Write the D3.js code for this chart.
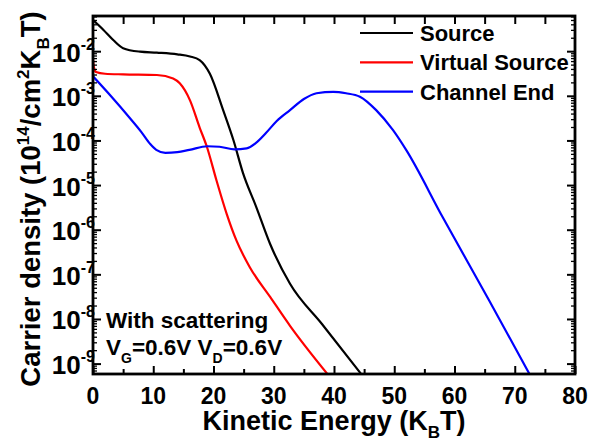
<!DOCTYPE html>
<html>
<head>
<meta charset="utf-8">
<script src="https://cdn.jsdelivr.net/npm/d3@7"></script>
<style>
  body { margin: 0; background: #fff; }
  text { font-family: "Liberation Sans", Arial, sans-serif; font-weight: bold; fill: #000; }
</style>
</head>
<body>
<svg id="chart" width="593" height="441"></svg>
<script>
// values (energy in kBT, density in 1e14/cm^2 kBT)
const sourceE  = [0, 1.7, 3.4, 5, 7.8, 10.6, 14, 16.1, 17.7, 19.4, 21.6, 23.3, 24.9, 27.1, 29.4, 32.7, 38, 44.6]
const sourceN  = [0.051, 0.031, 0.018, 0.012, 0.010, 0.0095, 0.0087, 0.0078, 0.0065, 3.2e-3, 4.9e-4, 1.05e-4, 1.9e-5, 3.3e-6, 4.9e-7, 6.3e-8, 7.9e-9, 5.8e-10]

const vsourceE = [0, 0.15, 0.5, 2, 5, 10.6, 13.3, 14.4, 16.1, 17.7, 18.9, 20.5, 22.2, 23.8, 26, 29.4, 32.7, 39]
const vsourceN = [6.8e-3, 4.5e-3, 3.5e-3, 3.2e-3, 3.1e-3, 3.0e-3, 2.5e-3, 1.95e-3, 8.1e-4, 2.0e-4, 7.4e-5, 1.3e-5, 2.3e-6, 5.9e-7, 1.5e-7, 3.2e-8, 7.2e-9, 5.8e-10]

const chendE   = [0, 3, 6, 8, 9.5, 10.5, 12, 14, 16, 19, 21, 23.5, 25.5, 27, 28.7, 30.5, 32.7, 35, 37.1, 39.9, 42, 44.3, 47, 49.8, 52, 58, 65.8, 72.5]
const chendN   = [2.8e-3, 1.0e-3, 3.4e-4, 1.6e-4, 8.5e-5, 6.3e-5, 5.4e-5, 5.6e-5, 6.3e-5, 7.6e-5, 7.4e-5, 6.5e-5, 6.8e-5, 8.9e-5, 1.5e-4, 2.8e-4, 4.9e-4, 8.7e-4, 1.17e-3, 1.26e-3, 1.17e-3, 9.8e-4, 4.9e-4, 1.74e-4, 6.2e-5, 2.0e-6, 2.6e-8, 5.8e-10]

const seriesNames  = ['Source', 'Virtual Source', 'Channel End']
const seriesColors = ['#000000', '#ff0000', '#0000ff']
const xTicks = [0, 10, 20, 30, 40, 50, 60, 70, 80]
const yExps  = [-2, -3, -4, -5, -6, -7, -8, -9]

const series = [
  { name: seriesNames[0], color: seriesColors[0], pts: sourceE.map((e, i) => [e, sourceN[i]]) },
  { name: seriesNames[1], color: seriesColors[1], pts: vsourceE.map((e, i) => [e, vsourceN[i]]) },
  { name: seriesNames[2], color: seriesColors[2], pts: chendE.map((e, i) => [e, chendN[i]]) }
]

const svg = d3.select('#chart')
const plotL = 93, plotR = 575, plotT = 16, plotB = 374

const x = d3.scaleLinear().domain([0, 80]).range([plotL, plotR])
const y = d3.scaleLog().domain([6e-10, 0.063]).range([plotB, plotT])

// minor tick values for log axis
const minorY = []
for (let p = -10; p <= -1; p++) {
  for (let m = 2; m <= 9; m++) {
    const v = m * Math.pow(10, p)
    if (v >= 6e-10 && v <= 0.063) minorY.push(v)
  }
}
const majorY = yExps.map(p => Math.pow(10, p))

// curves
const line = d3.line()
  .x(d => x(d[0]))
  .y(d => y(d[1]))
  .curve(d3.curveMonotoneX)

svg.append('defs').append('clipPath').attr('id', 'clip')
  .append('rect').attr('x', plotL).attr('y', plotT).attr('width', plotR - plotL).attr('height', plotB - plotT)

svg.append('g').attr('clip-path', 'url(#clip)')
  .selectAll('path')
  .data(series)
  .join('path')
  .attr('d', d => line(d.pts))
  .attr('fill', 'none')
  .attr('stroke', d => d.color)
  .attr('stroke-width', 2.2)

// axes (ticks inward)
function yAxisTicks(g, side) {
  const dir = side === 'left' ? 1 : -1
  const x0 = side === 'left' ? plotL : plotR
  g.selectAll('line.maj').data(majorY).join('line')
    .attr('class', 'maj')
    .attr('x1', x0).attr('x2', x0 + dir * 8)
    .attr('y1', d => y(d)).attr('y2', d => y(d))
    .attr('stroke', '#000').attr('stroke-width', 2)
  g.selectAll('line.min').data(minorY).join('line')
    .attr('class', 'min')
    .attr('x1', x0).attr('x2', x0 + dir * 4)
    .attr('y1', d => y(d)).attr('y2', d => y(d))
    .attr('stroke', '#000').attr('stroke-width', 1.3)
}

const xAxisBottom = d3.axisBottom(x).tickValues(d3.range(0, 81, 5)).tickFormat('')
  .tickSizeInner(-8).tickSizeOuter(0)
const gxb = svg.append('g').attr('transform', `translate(0,${plotB})`).call(xAxisBottom)
gxb.select('.domain').remove()
gxb.selectAll('.tick line')
  .attr('y2', d => d % 10 === 0 ? -8 : -5)
  .attr('stroke-width', 2)

const xAxisTop = d3.axisTop(x).tickValues(d3.range(5, 80, 5)).tickFormat('')
  .tickSizeInner(-8).tickSizeOuter(0)
const gxt = svg.append('g').attr('transform', `translate(0,${plotT})`).call(xAxisTop)
gxt.select('.domain').remove()
gxt.selectAll('.tick line').attr('stroke-width', 2)

yAxisTicks(svg.append('g'), 'left')
yAxisTicks(svg.append('g'), 'right')

// frame
svg.append('rect')
  .attr('x', plotL).attr('y', plotT)
  .attr('width', plotR - plotL).attr('height', plotB - plotT)
  .attr('fill', 'none').attr('stroke', '#000').attr('stroke-width', 2.8)

// x tick labels
svg.append('g').selectAll('text').data(xTicks).join('text')
  .attr('x', d => x(d)).attr('y', 404)
  .attr('text-anchor', 'middle')
  .style('font-size', '23px')
  .text(d => d)

// y tick labels: 10^n
const yl = svg.append('g').selectAll('text').data(yExps).join('text')
  .attr('x', 95).attr('y', d => y(Math.pow(10, d)) + 10)
  .attr('text-anchor', 'end')
yl.append('tspan').style('font-size', '26px').text('10')
yl.append('tspan').style('font-size', '16px').attr('dy', -12).text(d => '-' + Math.abs(d))

// x axis title
const xt = svg.append('text').attr('x', 334).attr('y', 430).attr('text-anchor', 'middle').style('font-size', '27px')
xt.append('tspan').text('Kinetic Energy (K')
xt.append('tspan').style('font-size', '17px').attr('dy', 8).text('B')
xt.append('tspan').attr('dy', -8).text('T)')

// y axis title
const yt = svg.append('text')
  .attr('transform', 'translate(40,199) rotate(-90)')
  .attr('text-anchor', 'middle').style('font-size', '27.5px')
yt.append('tspan').text('Carrier density (10')
yt.append('tspan').style('font-size', '17px').attr('dy', -11).text('14')
yt.append('tspan').attr('dy', 11).text('/cm')
yt.append('tspan').style('font-size', '17px').attr('dy', -11).text('2')
yt.append('tspan').attr('dy', 11).text('K')
yt.append('tspan').style('font-size', '17px').attr('dy', 9).text('B')
yt.append('tspan').attr('dy', -9).text('T)')

// legend
const lg = svg.append('g').selectAll('g').data(series).join('g')
  .attr('transform', (d, i) => `translate(360,${33 + i * 29.3})`)
lg.append('line').attr('x1', 0).attr('x2', 53)
  .attr('stroke', d => d.color).attr('stroke-width', 2.2)
lg.append('text').attr('x', 60).attr('y', 8).style('font-size', '22px').text(d => d.name)

// annotation
svg.append('text').attr('x', 106).attr('y', 328).style('font-size', '22.5px').text('With scattering')
const an = svg.append('text').attr('x', 106).attr('y', 355).style('font-size', '22.5px')
an.append('tspan').text('V')
an.append('tspan').style('font-size', '14px').attr('dy', 8).text('G')
an.append('tspan').attr('dy', -8).text('=0.6V V')
an.append('tspan').style('font-size', '14px').attr('dy', 8).text('D')
an.append('tspan').attr('dy', -8).text('=0.6V')
</script>
</body>
</html>
